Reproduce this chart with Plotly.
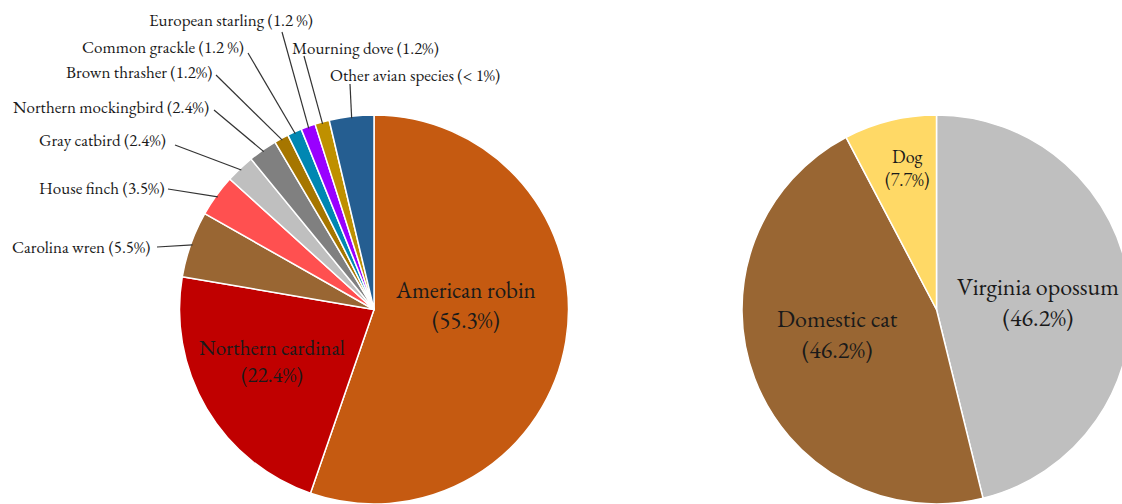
import math
import plotly.graph_objects as go

# ---------------- data ----------------
bird_species = ["American robin", "Northern cardinal", "Carolina wren", "House finch",
                "Gray catbird", "Northern mockingbird", "Brown thrasher", "Common grackle",
                "European starling", "Mourning dove", "Other avian species"]
bird_pct = [55.3, 22.4, 5.5, 3.5, 2.4, 2.4, 1.2, 1.2, 1.2, 1.2, 3.7]
bird_pct_labels = ["55.3%", "22.4%", "5.5%", "3.5%", "2.4%", "2.4%", "1.2%", "1.2 %",
                   "1.2 %", "1.2%", "< 1%"]

mammal_species = ["Virginia opossum", "Domestic cat", "Dog"]
mammal_pct = [46.2, 46.2, 7.7]
mammal_pct_labels = ["46.2%", "46.2%", "7.7%"]

# ---------------- styles ----------------
bird_colors = ["#C55A11", "#C00000", "#996633", "#FF5050", "#BFBFBF", "#808080",
               "#A67600", "#0087B2", "#9900FF", "#BF9000", "#255E91"]
mammal_colors = ["#BFBFBF", "#996633", "#FFD966"]

FONT = "EB Garamond, Garamond, Liberation Serif, serif"
TEXT_COLOR = "#1a1a1a"
OUTER_SIZE = 17

W, H = 1140, 504
R = 194.5
LEFT_C = (374.0, 309.5)
RIGHT_C = (936.5, 309.5)

# label layout (pixel positions of text and leader-line starts)
outer_label_layout = {
    "Carolina wren":        dict(tx=152, ty=247, anchor="right", lx=157, ly=247),
    "House finch":          dict(tx=167, ty=188, anchor="right", lx=168, ly=189),
    "Gray catbird":         dict(tx=168, ty=140, anchor="right", lx=175, ly=145),
    "Northern mockingbird": dict(tx=211, ty=107, anchor="right", lx=214, ly=110),
    "Brown thrasher":       dict(tx=214, ty=72,  anchor="right", lx=216, ly=75),
    "Common grackle":       dict(tx=246, ty=47,  anchor="right", lx=248, ly=53),
    "European starling":    dict(tx=315, ty=20,  anchor="right", lx=282, ly=32),
    "Mourning dove":        dict(tx=290, ty=48,  anchor="left",  lx=304, ly=56),
    "Other avian species":  dict(tx=328, ty=75,  anchor="left",  lx=350, ly=84),
}
inside_label_layout = {
    "American robin":    dict(x=465, y=305, size=23),
    "Northern cardinal": dict(x=272, y=361, size=21),
    "Virginia opossum":  dict(x=1038, y=302, size=24),
    "Domestic cat":      dict(x=837, y=334, size=24),
    "Dog":               dict(x=907, y=168, size=18),
}


def px_to_paper(px, py):
    return px / W, 1 - py / H


def domain_for(center):
    cx, cy = center
    return dict(x=[(cx - R) / W, (cx + R) / W],
                y=[max(0.0, 1 - (cy + R) / H), 1 - (cy - R) / H])


def mid_angles(values):
    total = sum(values)
    out, acc = [], 0.0
    for v in values:
        out.append((acc + v / 2) / total * 2 * math.pi)
        acc += v
    return out


fig = go.Figure()
fig.add_trace(go.Pie(
    labels=bird_species, values=bird_pct, sort=False, direction="clockwise",
    rotation=0, textinfo="none", hoverinfo="label+percent",
    marker=dict(colors=bird_colors, line=dict(color="white", width=1.5)),
    domain=domain_for(LEFT_C), showlegend=False))
fig.add_trace(go.Pie(
    labels=mammal_species, values=mammal_pct, sort=False, direction="clockwise",
    rotation=0, textinfo="none", hoverinfo="label+percent",
    marker=dict(colors=mammal_colors, line=dict(color="white", width=1.5)),
    domain=domain_for(RIGHT_C), showlegend=False))

annotations = []
shapes = []

# inside labels
for names, pcts, in zip([bird_species, mammal_species], [bird_pct_labels, mammal_pct_labels]):
    for name, pl in zip(names, pcts):
        if name in inside_label_layout:
            lay = inside_label_layout[name]
            x, y = px_to_paper(lay["x"], lay["y"])
            annotations.append(dict(
                x=x, y=y, xref="paper", yref="paper", showarrow=False,
                text=f"{name}<br>({pl})", xanchor="center", yanchor="middle",
                font=dict(family=FONT, size=lay["size"], color=TEXT_COLOR)))

# outside labels with leader lines for birds
angles = mid_angles(bird_pct)
for name, pl, ang in zip(bird_species, bird_pct_labels, angles):
    if name not in outer_label_layout:
        continue
    lay = outer_label_layout[name]
    tx, ty = px_to_paper(lay["tx"], lay["ty"])
    annotations.append(dict(
        x=tx, y=ty, xref="paper", yref="paper", showarrow=False,
        text=f"{name} ({pl})", xanchor=lay["anchor"], yanchor="middle",
        font=dict(family=FONT, size=OUTER_SIZE, color=TEXT_COLOR)))
    ex = LEFT_C[0] + 0.99 * R * math.sin(ang)
    ey = LEFT_C[1] - 0.99 * R * math.cos(ang)
    x0, y0 = px_to_paper(lay["lx"], lay["ly"])
    x1, y1 = px_to_paper(ex, ey)
    shapes.append(dict(type="line", xref="paper", yref="paper",
                       x0=x0, y0=y0, x1=x1, y1=y1,
                       line=dict(color="#333333", width=1.2)))

fig.update_layout(
    width=W, height=H,
    margin=dict(l=0, r=0, t=0, b=0, pad=0),
    paper_bgcolor="white", plot_bgcolor="white",
    annotations=annotations, shapes=shapes,
    font=dict(family=FONT, color=TEXT_COLOR),
)

fig.write_html("out.html", config={"displayModeBar": False},
               post_script="document.body.style.margin='0';document.body.style.overflow='hidden';")
